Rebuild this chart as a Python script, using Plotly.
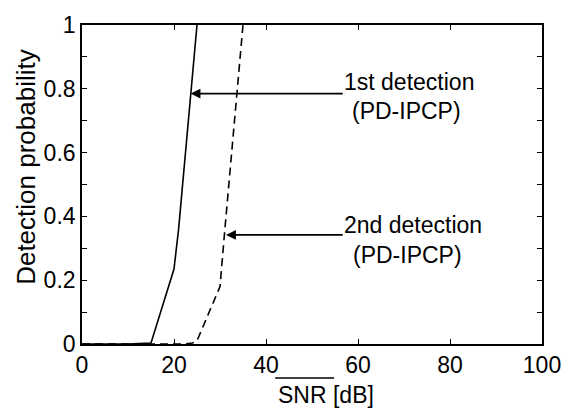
import plotly.graph_objects as go

# Data
snr_first = [0, 10, 15, 20, 21, 25]
pd_first = [0, 0, 0.003, 0.235, 0.36, 1.0]

snr_second = [0, 22, 24, 25, 30, 31, 35]
pd_second = [0, 0, 0.003, 0.01, 0.18, 0.35, 1.0]

x_ticks = [0, 20, 40, 60, 80, 100]
y_ticks = [0, 0.2, 0.4, 0.6, 0.8, 1]

# annotation arrows: (tail x, y, head x)
arrow_first = (57, 0.785, 23.6)
arrow_second = (57, 0.342, 31.3)

FONT = "Liberation Sans, Arial, Helvetica, sans-serif"

fig = go.Figure()
fig.add_trace(go.Scatter(x=snr_first, y=pd_first, mode="lines",
                         line=dict(color="black", width=1.6), showlegend=False))
fig.add_trace(go.Scatter(x=snr_second, y=pd_second, mode="lines",
                         line=dict(color="black", width=1.6, dash="8px,5px"), showlegend=False))

axis_common = dict(showline=True, linecolor="black", linewidth=1.6, mirror="ticks",
                   ticks="inside", ticklen=5, tickwidth=1.2, tickcolor="black",
                   showgrid=False, zeroline=False,
                   tickfont=dict(family=FONT, size=23, color="black"))

fig.update_xaxes(range=[0, 100], tickvals=x_ticks, **axis_common)
fig.update_yaxes(range=[0, 1], tickvals=y_ticks,
                 minor=dict(ticks="inside", ticklen=5, dtick=0.1, tickcolor="black", tickwidth=1.2),
                 **axis_common)

for (tx, ty, hx) in [arrow_first, arrow_second]:
    fig.add_annotation(x=hx, y=ty, ax=tx, ay=ty, xref="x", yref="y", axref="x", ayref="y",
                       text="", showarrow=True, arrowhead=2, arrowsize=1.1, arrowwidth=1.8,
                       arrowcolor="black")

labels = [("1st detection", 56.5, 0.82, "left"), ("(PD-IPCP)", 70.5, 0.73, "center"),
          ("2nd detection", 56.5, 0.372, "left"), ("(PD-IPCP)", 70.7, 0.279, "center")]
for txt, lx, ly, anc in labels:
    fig.add_annotation(x=lx, y=ly, xref="x", yref="y", text=txt, showarrow=False,
                       xanchor=anc, yanchor="middle",
                       font=dict(family=FONT, size=23, color="black"))

# axis titles
fig.add_annotation(x=-0.122, y=0.555, xref="paper", yref="paper", text="Detection probability",
                   textangle=-90, showarrow=False, xanchor="center", yanchor="middle",
                   font=dict(family=FONT, size=26, color="black"))
fig.add_annotation(x=0.530, y=-0.112, xref="paper", yref="paper", text="SNR [dB]",
                   showarrow=False, xanchor="center", yanchor="top",
                   font=dict(family=FONT, size=23, color="black"))
fig.add_shape(type="line", xref="paper", yref="paper", x0=0.420, x1=0.548,
              y0=-0.1066, y1=-0.1066, line=dict(color="black", width=1.5))

fig.update_layout(width=573, height=409, margin=dict(l=82, r=20, t=25, b=65),
                  plot_bgcolor="white", paper_bgcolor="white")

fig.write_html("out.html")
